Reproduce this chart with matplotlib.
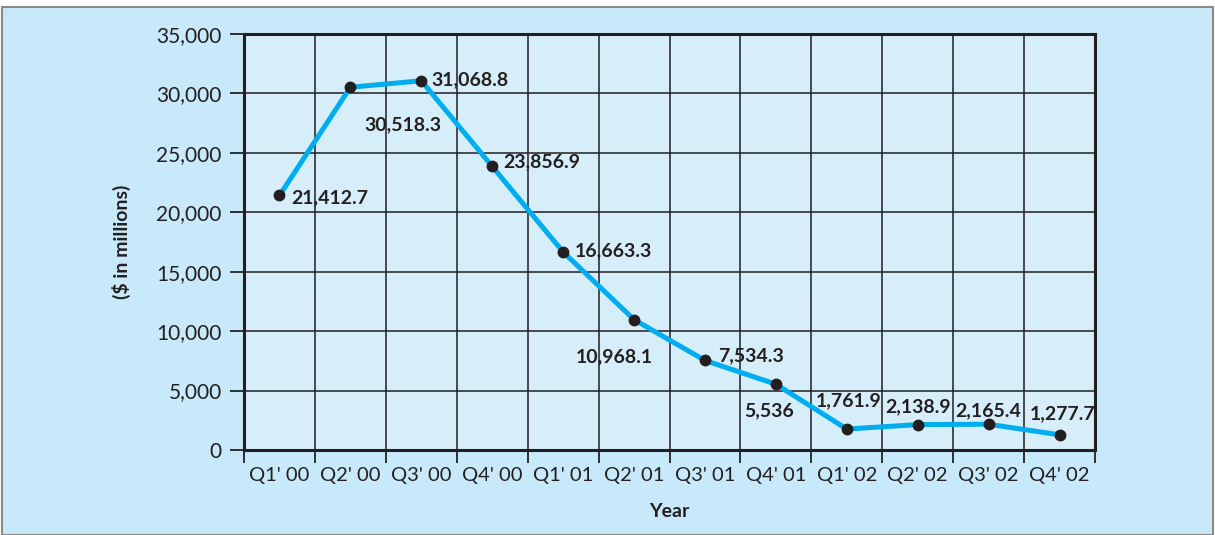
import matplotlib.pyplot as plt
from matplotlib.patches import Rectangle
from matplotlib.ticker import FuncFormatter

plt.rcParams['font.family'] = ['Lato', 'DejaVu Sans']

quarters = ["Q1' 00", "Q2' 00", "Q3' 00", "Q4' 00",
            "Q1' 01", "Q2' 01", "Q3' 01", "Q4' 01",
            "Q1' 02", "Q2' 02", "Q3' 02", "Q4' 02"]
values = [21412.7, 30518.3, 31068.8, 23856.9,
          16663.3, 10968.1, 7534.3, 5536,
          1761.9, 2138.9, 2165.4, 1277.7]
value_labels = ["21,412.7", "30,518.3", "31,068.8", "23,856.9",
                "16,663.3", "10,968.1", "7,534.3", "5,536",
                "1,761.9", "2,138.9", "2,165.4", "1,277.7"]

# label offsets in pixels (dx, dy) and alignment for each point
label_pos = [(12, -2, 'left'),
             (52, -37, 'center'),
             (10, 1, 'left'),
             (11, 5, 'left'),
             (12, 1, 'left'),
             (-20, -37, 'center'),
             (13, 5, 'left'),
             (-7, -27, 'center'),
             (2, 28, 'center'),
             (0, 18, 'center'),
             (0, 14, 'center'),
             (3, 21, 'center')]

bg = '#c8e9f9'
panel = '#d6edfa'
line_col = '#00aeef'
ink = '#231f20'

fig = plt.figure(figsize=(12.15, 5.35), dpi=100, facecolor='white')
fig.patches.append(Rectangle((0.0015, 0), 0.997, 1 - 7 / 535, transform=fig.transFigure,
                             facecolor=bg, edgecolor='#8a8a8a', linewidth=1.5, zorder=-10))

ax = fig.add_axes([244 / 1215, 1 - 450 / 535, 851 / 1215, 416 / 535])
ax.set_facecolor(panel)

x = list(range(len(quarters)))
ax.plot(x, values, color=line_col, linewidth=3.6, zorder=3, solid_joinstyle='round')
ax.plot(x, values, 'o', color=ink, markersize=7.5, zorder=4)

for xi, v, txt, (dx, dy, ha) in zip(x, values, value_labels, label_pos):
    ax.annotate(txt, (xi, v), xytext=(dx, dy), textcoords='offset pixels',
                ha=ha, va='center', fontsize=14, fontweight='bold', color=ink, zorder=5)

ax.set_xlim(-0.5, len(quarters) - 0.5)
ax.set_ylim(0, 35000)
ax.set_yticks(range(0, 35001, 5000))
ax.yaxis.set_major_formatter(FuncFormatter(lambda v, p: f'{int(v):,}'))

# gridlines sit on the quarter boundaries, labels in the middle
ax.set_xticks([i - 0.5 for i in range(len(quarters) + 1)])
ax.set_xticklabels([])
ax.set_xticks(x, minor=True)
ax.set_xticklabels(quarters, minor=True)
ax.tick_params(axis='x', which='minor', length=0, pad=12, labelsize=14.5, colors=ink)
ax.tick_params(axis='x', which='major', length=9, width=1.3, color=ink, direction='out')
ax.tick_params(axis='y', length=10, width=1.3, color=ink, pad=6, labelsize=15, labelcolor=ink)

ax.grid(True, which='major', color=ink, linewidth=1.1)
ax.set_axisbelow(True)
for s in ax.spines.values():
    s.set_color(ink)
    s.set_linewidth(2.2)

ax.set_ylabel('($ in millions)', fontsize=14, fontweight='bold', color=ink, labelpad=18)
ax.set_xlabel('Year', fontsize=14, fontweight='bold', color=ink, labelpad=14)

fig.savefig('out.png', dpi=100, facecolor=fig.get_facecolor())
